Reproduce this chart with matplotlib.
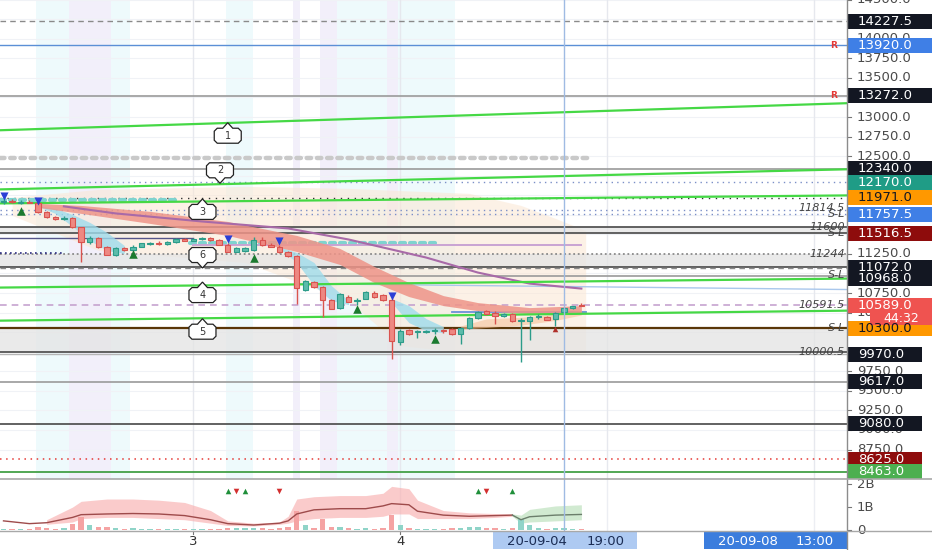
import numpy as np
import matplotlib
matplotlib.use("Agg")
import matplotlib.pyplot as plt
import matplotlib.transforms as mtransforms
from matplotlib.patches import Rectangle, Polygon
from matplotlib.lines import Line2D

plt.rcParams['font.family'] = ['DejaVu Sans']

# ---------------- data ----------------
opens = [11915, 11925, 11905, 11920, 11900, 11790, 11720, 11700, 11715, 11590,
         11400, 11455, 11340, 11240, 11325, 11300, 11345, 11380, 11395, 11375,
         11400, 11440, 11420, 11440, 11455, 11430, 11370, 11280, 11290, 11300,
         11430, 11370, 11345, 11270, 11220, 10790, 10895, 10830, 10660, 10560,
         10705, 10645, 10680, 10755, 10720, 10660, 10120, 10280, 10250, 10255,
         10260, 10270, 10290, 10230, 10300, 10430, 10520, 10500, 10460, 10480,
         10390, 10395, 10440, 10445, 10420, 10505, 10565, 10600]
highs = [11960, 11950, 11935, 11945, 11915, 11805, 11735, 11730, 11725, 11600,
         11475, 11470, 11355, 11335, 11345, 11360, 11395, 11405, 11410, 11415,
         11450, 11455, 11460, 11470, 11470, 11445, 11385, 11340, 11345, 11470,
         11465, 11385, 11360, 11285, 11235, 10915, 10910, 10845, 10670, 10750,
         10720, 10690, 10775, 10770, 10735, 10690, 10285, 10295, 10280, 10280,
         10300, 10290, 10305, 10310, 10440, 10520, 10535, 10515, 10500, 10495,
         10430, 10455, 10480, 10460, 10510, 10575, 10590, 10625]
lows = [11890, 11895, 11885, 11895, 11770, 11705, 11690, 11690, 11580, 11150,
        11380, 11330, 11230, 11225, 11290, 11280, 11335, 11365, 11360, 11365,
        11390, 11410, 11410, 11425, 11415, 11360, 11270, 11270, 11280, 11285,
        11355, 11335, 11260, 11205, 10615, 10770, 10820, 10450, 10540, 10545,
        10630, 10600, 10670, 10690, 10650, 9910, 10080, 10220, 10170, 10235,
        10230, 10240, 10220, 10100, 10290, 10420, 10470, 10360, 10440, 10380,
        9870, 10150, 10420, 10400, 10330, 10495, 10550, 10580]
closes = [11925, 11910, 11920, 11905, 11785, 11720, 11700, 11715, 11590, 11400,
          11460, 11340, 11240, 11320, 11300, 11345, 11385, 11395, 11375, 11405,
          11440, 11420, 11445, 11455, 11425, 11370, 11280, 11330, 11330, 11430,
          11370, 11345, 11270, 11220, 10810, 10900, 10830, 10660, 10550, 10740,
          10640, 10665, 10760, 10700, 10660, 10140, 10270, 10230, 10262, 10262,
          10278, 10262, 10230, 10300, 10430, 10505, 10480, 10460, 10480, 10390,
          10410, 10445, 10458, 10410, 10500, 10565, 10578, 10589]
volumes = [0.05, 0.04, 0.06, 0.05, 0.12, 0.10, 0.06, 0.08, 0.28, 0.59,
           0.20, 0.12, 0.14, 0.10, 0.06, 0.07, 0.05, 0.04, 0.05, 0.04,
           0.05, 0.04, 0.04, 0.05, 0.04, 0.06, 0.10, 0.09, 0.08, 0.11,
           0.09, 0.06, 0.10, 0.12, 0.81, 0.20, 0.10, 0.50, 0.15, 0.12,
           0.07, 0.06, 0.08, 0.05, 0.07, 0.67, 0.22, 0.08, 0.06, 0.05,
           0.05, 0.04, 0.07, 0.08, 0.12, 0.13, 0.09, 0.08, 0.06, 0.09,
           0.50, 0.22, 0.10, 0.06, 0.08, 0.07, 0.05, 0.04]

# EMA ribbon (red) and moving average (purple)
rib_idx = [4, 9, 17, 26, 34, 39, 43, 47, 51, 55, 61, 67]
rib_up = [11896, 11870, 11794, 11665, 11486, 11320, 11089, 10884, 10717, 10628, 10564, 10589]
rib_lo = [11845, 11768, 11640, 11486, 11281, 11115, 10884, 10705, 10589, 10525, 10487, 10487]
ma_idx = [7, 13, 23, 33, 40, 46, 49, 55, 61, 67]
ma_val = [11858, 11768, 11665, 11576, 11435, 11281, 11204, 11012, 10871, 10807]

# light-blue wedges after sharp drops
cy1_idx = [4, 6, 8, 10, 12, 14]
cy1_up = [11870, 11832, 11755, 11653, 11525, 11358]
cy1_lo = [11860, 11768, 11601, 11422, 11294, 11256]
cy2_idx = [32, 34, 36, 38, 40]
cy2_up = [11345, 11268, 11140, 10846, 10654]
cy2_lo = [11320, 11140, 10846, 10654, 10602]
cy3_idx = [45, 47, 49, 51]
cy3_up = [10679, 10589, 10423, 10320]
cy3_lo = [10628, 10372, 10269, 10243]
# light orange band near the end
or_idx = [53, 56, 60, 64, 67]
or_up = [10330, 10420, 10440, 10480, 10530]
or_lo = [10290, 10310, 10340, 10400, 10470]

# peach cloud
cl_idx = [1, 11, 28, 40, 46, 54, 60, 64, 67.5]
cl_up = [11973, 12075, 12114, 12088, 12060, 12024, 11870, 11704, 11550]
cl_lo = [11742, 11294, 11140, 10653, 10077, 9987, 9987, 9987, 9987]

# sloped green trend lines (price at left edge, right edge)
trend_left = [12831, 12075, 11896, 10820, 10397]
trend_right = [13177, 12332, 11998, 10935, 10525]

# horizontal levels
hl_prices = [14227.5, 13920.0, 13272.0, 12340.0, 12170.0, 11971.0, 11814.5, 11757.5,
             11600.0, 11516.5, 11244.0, 11089.0, 11072.0, 10968.0, 10591.5, 10300.0,
             10000.5, 9970.0, 9617.0, 9080.0, 8625.0, 8463.0]
hl_kinds = ['dash_gray', 'solid_blue', 'solid_gray', 'solid_gray', 'dot_blue', 'dot_dark',
            'dot_blue', 'dot_blue', 'solid_dark', 'solid_dark', 'dot_gray', 'solid_dark',
            'dash_gray', 'solid_gray', 'dash_pink', 'solid_brown', 'solid_dark', 'solid_light',
            'solid_gray', 'solid_dark', 'dot_red', 'solid_green']
zones = [(11516.5, 11600.0), (11089.0, 11244.0), (10000.5, 10300.0)]

# partial horizontal segments: (price, start idx, end idx, kind)
seg_prices = [12472, 11934, 11448, 11396, 11358, 11268, 10505]
seg_start = [-0.4, -0.4, -0.4, 21.6, 22.0, -0.4, 52.0]
seg_end = [67.8, 20.5, 22.0, 50.3, 67.0, 7.1, 67.5]
seg_kinds = ['gray_dots', 'teal_dots', 'navy', 'teal_dots', 'lavender', 'navy_dots', 'steel']
lb_line_idx = [34, 97.8]
lb_line_val = [10870, 10795]

# signals
blue_dn_idx = [0, 4, 26, 32, 45]
blue_dn_val = [11986, 11922, 11435, 11409, 10717]
green_up_idx = [2, 15, 29, 41, 50]
green_up_val = [11794, 11243, 11204, 10551, 10167]
red_up_idx = [64]
red_up_val = [10295]

# callouts
callout_labels = ['1', '2', '3', '6', '4', '5']
callout_x = [26.0, 25.1, 23.07, 23.07, 23.07, 23.07]
callout_y = [12761, 12319, 11787, 11236, 10724, 10256]
callout_up = [True, False, True, False, True, True]

# right-edge italic notes
note_texts = ['11814.5', 'S-L', '11600', 'S-L', '11244', 'S-L', '10591.5', 'S-L', '10000.5']
note_prices = [11832, 11757.5, 11600, 11516.5, 11244, 10985, 10591.5, 10300, 10000.5]
r_prices = [13920.0, 13272.0]

# volume envelope
vb_idx = [0, 3, 5, 8, 9, 12, 15, 18, 21, 24, 26, 29, 32, 33, 34, 36, 39, 42, 44, 45,
          47, 48, 51, 54, 57, 59, 60, 61, 64, 67]
vb_mid = [0.40, 0.28, 0.32, 0.55, 0.67, 0.70, 0.72, 0.70, 0.63, 0.45, 0.28, 0.22, 0.30, 0.40,
          0.70, 0.88, 0.93, 0.93, 1.05, 1.15, 1.10, 0.82, 0.65, 0.60, 0.63, 0.65, 0.45, 0.58,
          0.65, 0.68]
vb_up = [0.42, 0.30, 0.45, 1.0, 1.25, 1.35, 1.35, 1.3, 1.2, 0.85, 0.40, 0.30, 0.35, 0.6,
         1.35, 1.45, 1.5, 1.5, 1.6, 1.9, 1.8, 1.3, 0.85, 0.75, 0.72, 0.70, 0.65, 0.9, 1.05, 1.1]
vb_lo = [0.38, 0.26, 0.25, 0.35, 0.5, 0.55, 0.55, 0.5, 0.45, 0.3, 0.2, 0.18, 0.25, 0.3,
         0.4, 0.5, 0.55, 0.55, 0.6, 0.7, 0.7, 0.5, 0.5, 0.5, 0.55, 0.6, 0.3, 0.35, 0.4, 0.45]
vsig_up_idx = [26, 28, 55, 59]
vsig_dn_idx = [27, 32, 56]

# price-scale labels
lab_prices = [14227.5, 13920.0, 13272.0, 12340.0, 12170.0, 11971.0, 11757.5, 11516.5,
              11072.0, 10968.0, 10589.0, 10300.0, 9970.0, 9617.0, 9080.0, 8625.0, 8463.0]
lab_fc = ['#131722', '#3f7fe6', '#131722', '#131722', '#1f9c86', '#ff9800', '#3f7fe6', '#8e0c0c',
          '#131722', '#131722', '#ef5350', '#ff9800', '#131722', '#131722', '#131722', '#8e0c0c',
          '#4caf50']
lab_tc = ['white', 'white', 'white', 'white', 'white', '#131722', 'white', 'white',
          'white', 'white', 'white', '#131722', 'white', 'white', 'white', 'white', 'white']
lab_off_px = [0, 0, 0, 0, 1, 0, 0, 0, 0, 3, 0, 0, 0, 0, 0, 0, 0]
price_ticks = np.arange(8750, 14501, 250)

day_idx = [22, 46, 70, 94]
day_text = ['3', '4', '', '']
cross_idx = 65
bg_cyan = [(3.8, 7.6), (12.5, 14.7), (25.8, 28.9), (38.7, 44.5), (45.7, 52.3)]
bg_lav = [(7.6, 12.5), (33.6, 34.4), (36.7, 38.7), (44.5, 45.7)]

# ---------------- layout ----------------
W, H = 932, 550
PLOT_R, MAIN_BOT, VOL_BOT = 847, 479, 531
XLIM = (-0.406, 97.8)
PLIM = (8373, 14496)
VLIM = (-0.04, 2.22)

fig = plt.figure(figsize=(W / 100, H / 100), dpi=100)
fig.patch.set_facecolor('white')
ax = fig.add_axes([0, 1 - MAIN_BOT / H, PLOT_R / W, MAIN_BOT / H])
vax = fig.add_axes([0, 1 - VOL_BOT / H, PLOT_R / W, (VOL_BOT - MAIN_BOT) / H])
pax = fig.add_axes([PLOT_R / W, 1 - MAIN_BOT / H, (W - PLOT_R) / W, MAIN_BOT / H])
pvax = fig.add_axes([PLOT_R / W, 1 - VOL_BOT / H, (W - PLOT_R) / W, (VOL_BOT - MAIN_BOT) / H])
tax = fig.add_axes([0, 0, PLOT_R / W, (H - VOL_BOT) / H])
for a in (ax, vax, pax, pvax, tax):
    a.set_axis_off()
ax.set_xlim(XLIM); ax.set_ylim(PLIM)
vax.set_xlim(XLIM); vax.set_ylim(VLIM)
tax.set_xlim(XLIM); tax.set_ylim(0, 1)
pax.set_xlim(0, 85); pax.set_ylim(PLIM)
pvax.set_xlim(0, 85); pvax.set_ylim(VLIM)
ppp = (PLIM[1] - PLIM[0]) / MAIN_BOT

# background
for lo, hi in bg_cyan:
    ax.axvspan(lo, hi, color='#eefafc', lw=0, zorder=0)
for lo, hi in bg_lav:
    ax.axvspan(lo, hi, color='#f2effa', lw=0, zorder=0)
for t in price_ticks:
    ax.axhline(t, color='#f0f2f6', lw=0.8, zorder=0.2)
for d in day_idx:
    ax.axvline(d, color='#e6e8ee', lw=1, zorder=0.3)
    vax.axvline(d, color='#eceef3', lw=1, zorder=0.3)

ax.fill_between(cl_idx, cl_lo, cl_up, color='#fbe7d3', alpha=0.55, lw=0, zorder=0.5)
for lo, hi in zones:
    ax.axhspan(lo, hi, color='#e4e4e4', alpha=0.75, lw=0, zorder=0.8)

styles = {
    'dash_gray': dict(color='#8a8a8a', lw=1, ls=(0, (4, 3))),
    'solid_blue': dict(color='#5b8fd6', lw=1, ls='-'),
    'solid_gray': dict(color='#9a9a9a', lw=1.2, ls='-'),
    'dot_blue': dict(color='#7b8fc7', lw=1, ls=(0, (1, 3))),
    'dot_dark': dict(color='#333333', lw=1, ls=(0, (1, 4))),
    'solid_dark': dict(color='#555555', lw=1.3, ls='-'),
    'dot_gray': dict(color='#8a8a8a', lw=1.3, ls=(0, (1, 1.5))),
    'dash_pink': dict(color='#c6a3cf', lw=1.2, ls=(0, (4, 3))),
    'solid_brown': dict(color='#5a3608', lw=1.6, ls='-'),
    'solid_light': dict(color='#b5b5b5', lw=1, ls='-'),
    'dot_red': dict(color='#e53935', lw=1.1, ls=(0, (1, 3))),
    'solid_green': dict(color='#43a047', lw=1.3, ls='-'),
}
for p, k in zip(hl_prices, hl_kinds):
    ax.axhline(p, zorder=2, **styles[k])

seg_styles = {
    'gray_dots': dict(color='#c9c9c9', lw=3.2, ls=(0, (1, 1.3)), solid_capstyle='round', dash_capstyle='round'),
    'teal_dots': dict(color='#7fd3cf', lw=3, ls=(0, (1.2, 1.2)), dash_capstyle='round'),
    'navy': dict(color='#55558a', lw=1, ls='-'),
    'lavender': dict(color='#c9a3d3', lw=1.4, ls='-'),
    'navy_dots': dict(color='#2a2a80', lw=1.2, ls=(0, (1, 2))),
    'steel': dict(color='#6a8fd8', lw=1.3, ls='-'),
}
for p, s0, s1, k in zip(seg_prices, seg_start, seg_end, seg_kinds):
    ax.plot([s0, s1], [p, p], zorder=2.5, **seg_styles[k])
ax.plot(lb_line_idx, lb_line_val, color='#a9c7ec', lw=1, zorder=2.5)

# ribbons
ax.fill_between(cy1_idx, cy1_lo, cy1_up, color='#9fdcec', alpha=0.8, lw=0, zorder=3)
ax.fill_between(cy2_idx, cy2_lo, cy2_up, color='#9fdcec', alpha=0.8, lw=0, zorder=3)
ax.fill_between(cy3_idx, cy3_lo, cy3_up, color='#9fdcec', alpha=0.8, lw=0, zorder=3)
ax.fill_between(or_idx, or_lo, or_up, color='#f6c39c', alpha=0.6, lw=0, zorder=3)
ax.fill_between(rib_idx, rib_lo, rib_up, color='#ee9488', alpha=0.85, lw=0, zorder=3.2)
ax.plot(ma_idx, ma_val, color='#a86aa8', lw=1.5, zorder=3.4)

# trend lines
for l, r in zip(trend_left, trend_right):
    ax.plot(XLIM, [l, r], color='#45d845', lw=1.6, zorder=4)

# candles
o = np.array(opens); c = np.array(closes); h = np.array(highs); lw_ = np.array(lows)
idx = np.arange(len(o))
up = c >= o
face = np.where(up, '#5dbcab', '#ee8882')
edge = np.where(up, '#2c9c8a', '#d9534f')
ax.vlines(idx, lw_, h, colors=edge, lw=1, zorder=6)
body_lo = np.minimum(o, c)
body_h = np.maximum(np.abs(c - o), 14)
ax.bar(idx, body_h, bottom=body_lo, width=0.62, color=face, edgecolor=edge, lw=0.8, zorder=7)

# signals
ax.scatter(blue_dn_idx, blue_dn_val, marker='v', s=34, color='#2b3fd6', zorder=8, lw=0)
ax.scatter(green_up_idx, green_up_val, marker='^', s=38, color='#1b7a2f', zorder=8, lw=0)
ax.scatter(red_up_idx, red_up_val, marker='^', s=16, color='#b0302a', zorder=8, lw=0)

# callouts
hw, hh, ch, pw, ph = 13.5, 7.5, 3.0, 5.0, 5.5
for lab, x, y, u in zip(callout_labels, callout_x, callout_y, callout_up):
    v = [(-hw + ch, hh)]
    if u:
        v += [(-pw, hh), (0, hh + ph), (pw, hh)]
    v += [(hw - ch, hh), (hw, hh - ch), (hw, -hh + ch), (hw - ch, -hh)]
    if not u:
        v += [(pw, -hh), (0, -hh - ph), (-pw, -hh)]
    v += [(-hw + ch, -hh), (-hw, -hh + ch), (-hw, hh - ch)]
    tr = mtransforms.Affine2D().scale(fig.dpi / 100) + mtransforms.ScaledTranslation(x, y, ax.transData)
    ax.add_patch(Polygon(v, closed=True, transform=tr, fc='white', ec='#222222', lw=0.9, zorder=9))
    ax.text(x, y, lab, ha='center', va='center', fontsize=7, color='#333333', zorder=10)

# right notes
for t, p in zip(note_texts, note_prices):
    ax.text(97.55, p, t, ha='right', va='center', fontsize=8, style='italic', color='#444444', zorder=9)
for p in r_prices:
    ax.text(96.2, p, 'R', ha='center', va='center', fontsize=6.5, color='#e53935', fontweight='bold', zorder=9)

ax.axvline(cross_idx, color='#9fbbe3', lw=1, zorder=11)

# ---------------- volume ----------------
vol = np.array(volumes)
vcol = np.where(up, '#8fd4c8', '#f5a3a3')
vax.bar(idx, vol, width=0.62, color=vcol, lw=0, zorder=3)
vbi = np.array(vb_idx)
vbu = np.array(vb_up); vbl = np.array(vb_lo); vbm = np.array(vb_mid)
red_m = vbi <= 59
grn_m = vbi >= 59
vax.fill_between(vbi[red_m][2:], vbl[red_m][2:], vbu[red_m][2:], color='#f8a9a9', alpha=0.6, lw=0, zorder=2)
vax.fill_between(vbi[grn_m], vbl[grn_m], vbu[grn_m], color='#b3dcb3', alpha=0.6, lw=0, zorder=2)
vax.plot(vbi[red_m], vbm[red_m], color='#9e4b4b', lw=1, zorder=4)
vax.plot(vbi[grn_m], vbm[grn_m], color='#6b7e6b', lw=1, zorder=4)
vax.scatter(vsig_up_idx, [1.70] * len(vsig_up_idx), marker='^', s=16, color='#1f8f3a', lw=0, zorder=5)
vax.scatter(vsig_dn_idx, [1.70] * len(vsig_dn_idx), marker='v', s=16, color='#d32f2f', lw=0, zorder=5)
vax.axvline(cross_idx, color='#9fbbe3', lw=1, zorder=11)

# ---------------- price scale ----------------
BOX_H = 15
label_centers = [p - off * ppp for p, off in zip(lab_prices, lab_off_px)]
for t in price_ticks:
    pax.plot([0, 4], [t, t], color='#777777', lw=0.8, zorder=1)
    hidden = any(abs(t - yc) < 4.5 * ppp for yc in label_centers)
    if not hidden:
        pax.text(10, t, f"{t:.1f}", fontsize=9.5, color='#4a4a4a', ha='left', va='center',
                 zorder=2, clip_on=True)
for yc, p, fc, tc in zip(label_centers, lab_prices, lab_fc, lab_tc):
    txt = f"{p:.1f}"
    w = 84 if len(txt) >= 7 else 74
    pax.add_patch(Rectangle((1, yc - BOX_H / 2 * ppp), w, BOX_H * ppp, fc=fc, ec='none', zorder=5))
    pax.text(11, yc, txt, fontsize=9.5, color=tc, ha='left', va='center', zorder=6)
# countdown under last price
yc = 10589.0 - 13 * ppp
pax.add_patch(Rectangle((23, yc - 6 * ppp), 62, 12 * ppp, fc='#ef5350', ec='none', zorder=5))
pax.text(54, yc, '44:32', fontsize=9, color='white', ha='center', va='center', zorder=6)

for t, s in zip([0, 1, 2], ['0', '1B', '2B']):
    pvax.plot([0, 4], [t, t], color='#777777', lw=0.8)
    pvax.text(10, t, s, fontsize=9.5, color='#4a4a4a', ha='left', va='center')

# ---------------- time axis ----------------
for d, s in zip(day_idx, day_text):
    if s:
        tax.text(d, 0.45, s, fontsize=9.5, color='#333333', ha='center', va='center')
        tax.plot([d, d], [0.82, 1.0], color='#777777', lw=0.8)
tax.add_patch(Rectangle((cross_idx - 8.3, 0.04), 16.7, 0.92, fc='#aecaf2', ec='none', zorder=3))
tax.text(cross_idx - 3.2, 0.47, '20-09-04', fontsize=9.5, color='#1b2d55', ha='center', va='center', zorder=4)
tax.text(cross_idx + 4.8, 0.47, '19:00', fontsize=9.5, color='#1b2d55', ha='center', va='center', zorder=4)
tax.add_patch(Rectangle((81.2, 0.04), 16.6, 0.92, fc='#3b7ddd', ec='none', zorder=3))
tax.text(86.3, 0.47, '20-09-08', fontsize=9.5, color='white', ha='center', va='center', zorder=4)
tax.text(94.0, 0.47, '13:00', fontsize=9.5, color='white', ha='center', va='center', zorder=4)

# separators
fig.add_artist(Line2D([PLOT_R / W] * 2, [0, 1], color='#8c8c8c', lw=1))
fig.add_artist(Line2D([0, 1], [1 - MAIN_BOT / H] * 2, color='#a8a8a8', lw=1.2))
fig.add_artist(Line2D([0, 1], [1 - VOL_BOT / H] * 2, color='#a8a8a8', lw=1))

fig.savefig('out.png', dpi=100, facecolor='white')
